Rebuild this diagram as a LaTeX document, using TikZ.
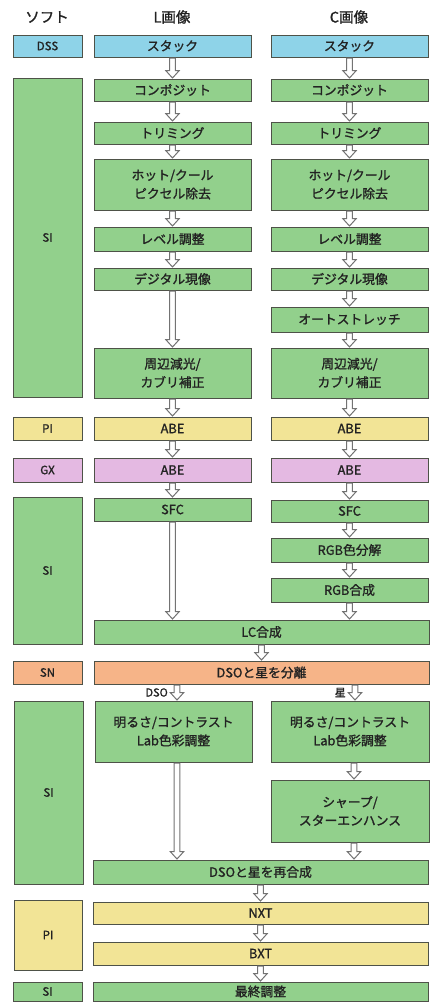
\documentclass[tikz,border=0pt]{standalone}
\usepackage{fontspec}
\usetikzlibrary{calc}
\newfontfamily\jp[FakeBold=1.3]{Noto Sans CJK JP}
\definecolor{cblue}{RGB}{142,211,232}
\definecolor{cgreen}{RGB}{146,208,140}
\definecolor{cyellow}{RGB}{242,228,150}
\definecolor{cpink}{RGB}{228,185,226}
\definecolor{corange}{RGB}{246,180,136}
\definecolor{cborder}{RGB}{78,82,72}
\definecolor{carrow}{RGB}{115,115,115}
\definecolor{ctext}{RGB}{34,34,34}
\tikzset{
  box/.style={draw=cborder, line width=1pt, inner sep=0pt, align=center, text=ctext,
    font=\jp\fontsize{12.8}{18.5}\selectfont},
  softbox/.style={box, font=\jp\fontsize{11.5}{14}\selectfont},
  bl/.style={fill=cblue}, gr/.style={fill=cgreen}, ye/.style={fill=cyellow},
  pk/.style={fill=cpink}, og/.style={fill=corange},
  barrowstyle/.style={draw=carrow, fill=white, line width=1pt, line join=miter},
  header/.style={font=\jp\fontsize{14.5}{16}\selectfont, text=ctext, inner sep=0pt},
  sidelabel/.style={font=\jp\fontsize{11}{13}\selectfont, text=ctext, inner sep=0pt}
}
\newcommand\bx[7]{\node[#2, minimum width={#5-#3}, minimum height={#6-#4}] (#1) at ({(#3+#5)/2},{(#4+#6)/2}) {#7};}
\newcommand\blkarrow[2]{%
  \path[barrowstyle] let \p1=#1, \p2=#2 in
    (\x1-2.8pt,\y1-0.7pt) -- (\x1-2.8pt,\y2+8pt) -- (\x1-6.8pt,\y2+8pt) -- (\x1,\y2+0.5pt)
    -- (\x1+6.8pt,\y2+8pt) -- (\x1+2.8pt,\y2+8pt) -- (\x1+2.8pt,\y1-0.7pt) -- cycle;}
\begin{document}
\begin{tikzpicture}[x=1pt,y=-1pt]
\useasboundingbox (0,0) rectangle (436,1002);
% headers
\node[header] (h0) at (47,17) {ソフト};
\node[header] (h1) at (172,17) {L画像};
\node[header] (h2) at (349,17) {C画像};
% software column
\bx{s1}{softbox,bl}{13}{35}{82}{57}{DSS}
\bx{s2}{softbox,gr}{13}{78}{82}{397}{SI}
\bx{s3}{softbox,ye}{13}{417}{82}{440}{PI}
\bx{s4}{softbox,pk}{13}{458}{82}{482}{GX}
\bx{s5}{softbox,gr}{13}{497}{82}{644}{SI}
\bx{s6}{softbox,og}{13}{661}{82}{684}{SN}
\bx{s7}{softbox,gr}{14}{701}{83}{884}{SI}
\bx{s8}{softbox,ye}{14}{900}{82}{970}{PI}
\bx{s9}{softbox,gr}{13}{982}{82}{1001}{SI}
% L column
\bx{ls}{box,bl}{94}{35}{251}{57}{スタック}
\bx{lc}{box,gr}{94}{79}{251}{101}{コンポジット}
\bx{lt}{box,gr}{94}{122}{251}{144}{トリミング}
\bx{lh}{box,gr}{94}{159}{251}{210}{ホット/クール\\ピクセル除去}
\bx{ll}{box,gr}{94}{227}{251}{251}{レベル調整}
\bx{ld}{box,gr}{94}{268}{251}{290}{デジタル現像}
\bx{lg}{box,gr}{94}{348}{251}{398}{周辺減光/\\カブリ補正}
\bx{la}{box,ye}{94}{417}{251}{440}{ABE}
\bx{lx}{box,pk}{94}{458}{251}{482}{ABE}
\bx{lf}{box,gr}{94}{498}{251}{521}{SFC}
% C column
\bx{cs}{box,bl}{271}{35}{428}{57}{スタック}
\bx{cc}{box,gr}{271}{79}{428}{101}{コンポジット}
\bx{ct}{box,gr}{271}{122}{428}{144}{トリミング}
\bx{ch}{box,gr}{271}{159}{428}{210}{ホット/クール\\ピクセル除去}
\bx{cl}{box,gr}{271}{227}{428}{251}{レベル調整}
\bx{cd}{box,gr}{271}{268}{428}{290}{デジタル現像}
\bx{co}{box,gr}{271}{307}{428}{332}{オートストレッチ}
\bx{cg}{box,gr}{271}{348}{428}{398}{周辺減光/\\カブリ補正}
\bx{ca}{box,ye}{271}{417}{428}{440}{ABE}
\bx{cx}{box,pk}{271}{458}{428}{482}{ABE}
\bx{cf}{box,gr}{271}{500}{428}{522}{SFC}
\bx{cr}{box,gr}{271}{538}{428}{562}{RGB色分解}
\bx{cm}{box,gr}{271}{578}{428}{602}{RGB合成}
% merged
\bx{lcm}{box,gr}{94}{620}{429}{644}{LC合成}
\bx{sep}{box,og}{94}{661}{429}{684}{DSOと星を分離}
\bx{lb}{box,gr}{95}{701}{252}{762}{明るさ/コントラスト\\Lab色彩調整}
\bx{cb}{box,gr}{271}{701}{429}{762}{明るさ/コントラスト\\Lab色彩調整}
\bx{csh}{box,gr}{271}{780}{429}{842}{シャープ/\\スターエンハンス}
\bx{rec}{box,gr}{93}{860}{428}{884}{DSOと星を再合成}
\bx{nxt}{box,ye}{93}{902}{428}{924}{NXT}
\bx{bxt}{box,ye}{93}{942}{428}{965}{BXT}
\bx{fin}{box,gr}{93}{982}{428}{1001}{最終調整}
% arrows L
\blkarrow{(ls.south)}{(lc.north)}
\blkarrow{(lc.south)}{(lt.north)}
\blkarrow{(lt.south)}{(lh.north)}
\blkarrow{(lh.south)}{(ll.north)}
\blkarrow{(ll.south)}{(ld.north)}
\blkarrow{(ld.south)}{(lg.north)}
\blkarrow{(lg.south)}{(la.north)}
\blkarrow{(la.south)}{(lx.north)}
\blkarrow{(lx.south)}{(lf.north)}
\blkarrow{(lf.south)}{(lcm.north)}
% arrows C
\blkarrow{(cs.south)}{(cc.north)}
\blkarrow{(cc.south)}{(ct.north)}
\blkarrow{(ct.south)}{(ch.north)}
\blkarrow{(ch.south)}{(cl.north)}
\blkarrow{(cl.south)}{(cd.north)}
\blkarrow{(cd.south)}{(co.north)}
\blkarrow{(co.south)}{(cg.north)}
\blkarrow{(cg.south)}{(ca.north)}
\blkarrow{(ca.south)}{(cx.north)}
\blkarrow{(cx.south)}{(cf.north)}
\blkarrow{(cf.south)}{(cr.north)}
\blkarrow{(cr.south)}{(cm.north)}
\blkarrow{(cm.south)}{(lcm.north)}
% lower
\blkarrow{(lcm.south)}{(sep.north)}
\coordinate (dl) at ([xshift=3.5pt]lb.north);
\coordinate (dr) at ([xshift=5pt]cb.north);
\blkarrow{(dl |- sep.south)}{(lb.north)}
\blkarrow{(dr |- sep.south)}{(cb.north)}
\node[sidelabel, anchor=east] (lbl1) at ([xshift=-9pt]dl |- sep.south) [yshift=-8pt] {DSO};
\node[sidelabel, anchor=east] (lbl2) at ([xshift=-9pt]dr |- sep.south) [yshift=-8pt] {星};
\coordinate (el) at ([xshift=3.5pt]lb.south);
\coordinate (er) at ([xshift=4pt]csh.south);
\blkarrow{(el)}{(rec.north)}
\blkarrow{([xshift=4pt]cb.south)}{(csh.north)}
\blkarrow{(er)}{(rec.north)}
\blkarrow{(rec.south)}{(nxt.north)}
\blkarrow{(nxt.south)}{(bxt.north)}
\blkarrow{(bxt.south)}{(fin.north)}
\end{tikzpicture}
\end{document}
